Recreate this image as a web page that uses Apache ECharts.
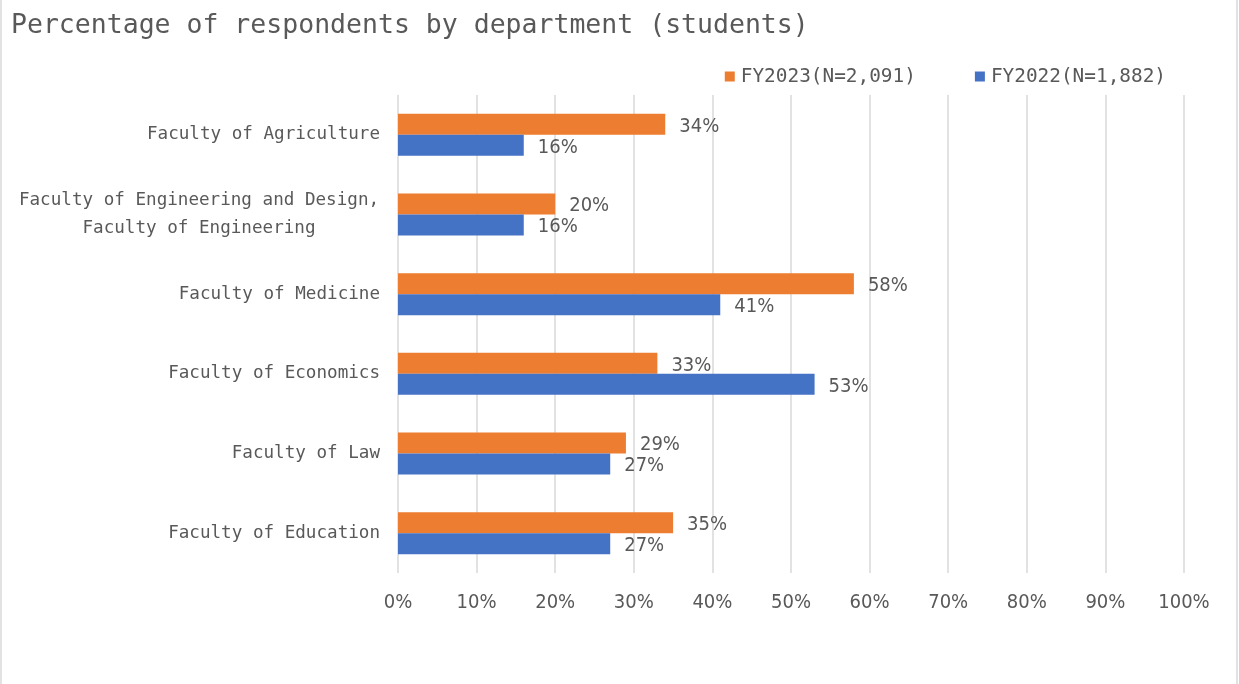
<!DOCTYPE html>
<html>
<head>
<meta charset="utf-8">
<script src="https://cdn.jsdelivr.net/npm/echarts@6/dist/echarts.min.js"></script>
<style>
  html, body { margin: 0; padding: 0; background: #fff; }
  #chart { width: 1239px; height: 684px; }
</style>
</head>
<body>
<div id="chart"></div>
<script>
// data
const categories = [
  'Faculty of Agriculture',
  'Faculty of Engineering and Design,\nFaculty of Engineering',
  'Faculty of Medicine',
  'Faculty of Economics',
  'Faculty of Law',
  'Faculty of Education'
];
const fy2023 = [34, 20, 58, 33, 29, 35];
const fy2022 = [16, 16, 41, 53, 27, 27];
const seriesNames = ['FY2023(N=2,091)', 'FY2022(N=1,882)'];
const xTicks = [0, 100, 10]; // min, max, interval

const monoFont = '"DejaVu Sans Mono", "Liberation Mono", monospace';
const numFont = '"DejaVu Sans Condensed", "Liberation Sans", sans-serif';
const textColor = '#595959';

const chart = echarts.init(document.getElementById('chart'));

const barLabel = {
  show: true,
  position: 'right',
  distance: 14,
  offset: [0, 2],
  formatter: '{c}%',
  color: textColor,
  fontFamily: numFont,
  fontSize: 20,
};

const option = {
  backgroundColor: '#fff',
  animation: false,
  title: {
    text: 'Percentage of respondents by department (students)',
    left: 6,
    top: 8,
    textStyle: {
      color: textColor,
      fontFamily: monoFont,
      fontWeight: 'normal',
      fontSize: 26.5,
    },
  },
  legend: {
    data: seriesNames,
    right: 68,
    top: 62,
    itemWidth: 10,
    itemHeight: 10,
    itemGap: 59,
    icon: 'rect',
    textStyle: {
      color: textColor,
      fontFamily: monoFont,
      fontSize: 19.4,
      padding: [0, 0, 0, 1],
    },
  },
  grid: {
    left: 398,
    right: 55,
    top: 95,
    bottom: 111,
    outerBoundsMode: 'none',
  },
  xAxis: {
    type: 'value',
    min: xTicks[0],
    max: xTicks[1],
    interval: xTicks[2],
    axisLine: { show: false },
    axisTick: { show: false },
    splitLine: { lineStyle: { color: '#d9d9d9', width: 1.5 } },
    axisLabel: {
      formatter: '{value}%',
      color: textColor,
      fontFamily: numFont,
      fontSize: 20,
      margin: 20,
    },
  },
  yAxis: {
    type: 'category',
    data: categories,
    inverse: true,
    axisLine: { show: false },
    axisTick: { show: false },
    axisLabel: {
      color: textColor,
      fontFamily: monoFont,
      fontSize: 17.6,
      margin: 18,
      lineHeight: 28,
      formatter: function (v) {
        if (v.indexOf('\n') < 0) return v;
        return v.split('\n').map(function (s) { return '{c|' + s + '}'; }).join('\n');
      },
      rich: {
        c: {
          width: 362,
          align: 'center',
          color: textColor,
          fontFamily: monoFont,
          fontSize: 17.6,
          lineHeight: 28,
        },
      },
    },
  },
  series: [
    {
      name: seriesNames[0],
      type: 'bar',
      data: fy2023,
      barWidth: 21,
      barGap: '0%',
      itemStyle: { color: '#ED7D31' },
      label: barLabel,
    },
    {
      name: seriesNames[1],
      type: 'bar',
      data: fy2022,
      barWidth: 21,
      barGap: '0%',
      itemStyle: { color: '#4472C4' },
      label: barLabel,
    },
  ],
  graphic: [
    {
      type: 'rect',
      shape: { x: 1, y: -5, width: 1236, height: 700 },
      style: { fill: 'none', stroke: '#d9d9d9', lineWidth: 1.5 },
      silent: true,
    },
  ],
};

chart.setOption(option);
</script>
</body>
</html>
